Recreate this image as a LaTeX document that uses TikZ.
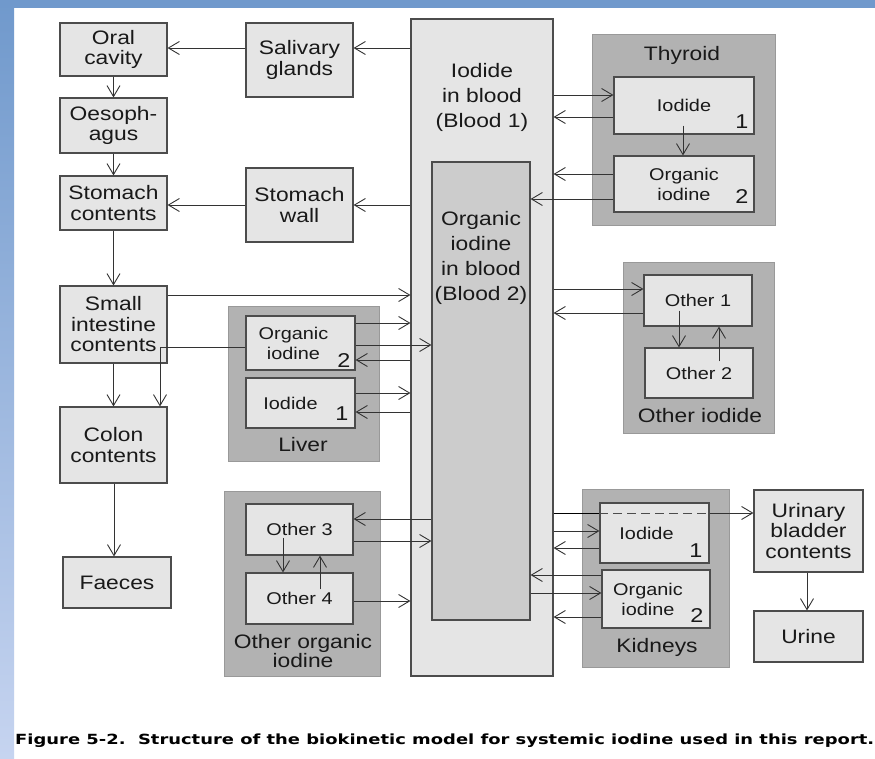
\documentclass[tikz,border=0pt]{standalone}
\usepackage{fontspec}
\setmainfont[FakeStretch=1.17]{Liberation Sans}
\newfontfamily\capfont[FakeStretch=1.28]{DejaVu Sans}
\usetikzlibrary{arrows.meta, calc}

\definecolor{bandtop}{HTML}{7099CC}
\definecolor{bandbot}{HTML}{C6D4F0}

\begin{document}
\begin{tikzpicture}[
    x=1pt, y=-1pt,
    box/.style = {rectangle, draw=black!70, fill=gray!20, line width=1.1pt,
                  inner sep=0pt, align=center, text=black!90,
                  font=\fontsize{19.5}{20.5}\selectfont},
    sub/.style = {box, font=\fontsize{17}{20}\selectfont},
    organ/.style = {rectangle, draw=black!40, fill=gray!60,
                    line width=0.8pt, inner sep=0pt},
    lbl/.style = {align=center, inner sep=0pt, text=black!90,
                  font=\fontsize{19.5}{18}\selectfont},
    btxt/.style = {lbl, font=\fontsize{19.5}{25}\selectfont},
    num/.style = {anchor=south east, inner xsep=6pt, inner ysep=6pt,
                  text=black!90, font=\fontsize{20}{20}\selectfont},
    arr/.style = {-{Straight Barb[length=11pt, width=13pt]},
                  line width=0.9pt, black!80},
  ]
  % page and blue frame
  \useasboundingbox (0,0) rectangle (875,758);
  \fill[white] (0,0) rectangle (875,758);
  \shade[top color=bandtop, bottom color=bandbot] (0,0) rectangle (14,758);
  \fill[bandtop] (0,0) rectangle (875,8);

  % blood compartments
  \node[box, minimum width=142pt, minimum height=657pt] (blood1) at (482,347.5) {};
  \node[box, fill=gray!40, minimum width=98pt, minimum height=458pt] (blood2) at (481,391) {};
  \node[btxt] (b1text) at (482,97) {Iodide\\in blood\\(Blood 1)};
  \node[btxt] (b2text) at (481,258) {Organic\\iodine\\in blood\\(Blood 2)};

  % alimentary tract
  \node[box, minimum width=107pt, minimum height=53pt] (oral) at (113.5,49.5) {Oral\\cavity};
  \node[box, minimum width=107pt, minimum height=74pt] (saliv) at (299.5,60) {Salivary\\glands};
  \node[box, minimum width=107pt, minimum height=55pt] (oeso) at (113.5,125.5) {Oesoph-\\agus};
  \node[box, minimum width=107pt, minimum height=54pt] (stomc) at (113.5,203) {Stomach\\contents};
  \node[box, minimum width=107pt, minimum height=74pt] (stomw) at (299.5,205) {Stomach\\wall};
  \node[box, minimum width=107pt, minimum height=77pt] (smint) at (113.5,324.5) {Small\\intestine\\contents};
  \node[box, minimum width=107pt, minimum height=76pt] (colon) at (113.5,445) {Colon\\contents};
  \node[box, minimum width=108pt, minimum height=51pt] (faeces) at (117,582.5) {Faeces};

  % thyroid
  \node[organ, minimum width=183pt, minimum height=191pt] (thyroid) at (683.5,129.5) {};
  \node[lbl] (thyroid-l) at (682,55) {Thyroid};
  \node[sub, minimum width=140pt, minimum height=57pt] (thyI) at (684,105.5) {Iodide};
  \node[sub, minimum width=140pt, minimum height=56pt] (thyO) at (684,184) {Organic\\iodine};
  \node[num] (thyI-n) at (thyI.south east) {1};
  \node[num, inner ysep=9pt] (thyO-n) at (thyO.south east) {2};

  % liver
  \node[organ, minimum width=151pt, minimum height=155pt] (liver) at (303.5,383.5) {};
  \node[lbl] (liver-l) at (303,445) {Liver};
  \node[sub, minimum width=109pt, minimum height=54pt] (livO) at (300.5,343) {Organic\kern14pt\\iodine\kern14pt};
  \node[sub, minimum width=109pt, minimum height=50pt] (livI) at (300.5,403) {Iodide\kern20pt};
  \node[num, inner ysep=3pt, inner xsep=5pt] (livO-n) at (livO.south east) {2};
  \node[num, inner ysep=8pt, inner xsep=7pt] (livI-n) at (livI.south east) {1};

  % other organic iodine
  \node[organ, minimum width=156pt, minimum height=185pt] (ooi) at (302,583.5) {};
  \node[lbl] (ooi-l) at (303,651) {Other organic\\iodine};
  \node[sub, minimum width=107pt, minimum height=51pt] (oth3) at (299.5,529.5) {Other 3};
  \node[sub, minimum width=107pt, minimum height=51pt] (oth4) at (299.5,598.5) {Other 4};

  % other iodide
  \node[organ, minimum width=151pt, minimum height=171pt] (oi) at (698.5,347.5) {};
  \node[lbl] (oi-l) at (700,416) {Other iodide};
  \node[sub, minimum width=108pt, minimum height=51pt] (oth1) at (698,300.5) {Other 1};
  \node[sub, minimum width=108pt, minimum height=50pt] (oth2) at (699,373) {Other 2};

  % kidneys and bladder
  \node[organ, minimum width=147pt, minimum height=178pt] (kidney) at (655.5,578) {};
  \node[lbl] (kidney-l) at (657,647) {Kidneys};
  \node[sub, minimum width=109pt, minimum height=60pt] (kidI) at (654.5,533) {Iodide\kern16pt};
  \node[sub, minimum width=108pt, minimum height=58pt] (kidO) at (656,599) {Organic\kern16pt\\iodine\kern16pt};
  \node[num, inner xsep=7pt] (kidI-n) at (kidI.south east) {1};
  \node[num, inner xsep=7pt] (kidO-n) at (kidO.south east) {2};
  \node[box, minimum width=109pt, minimum height=82pt] (bladder) at (808.5,531) {Urinary\\bladder\\contents};
  \node[box, minimum width=109pt, minimum height=51pt] (urine) at (808.5,636.5) {Urine};

  % alimentary flows
  \draw[arr] (blood1.west |- 0,48) -- (saliv.east |- 0,48);
  \draw[arr] (saliv.west |- 0,48) -- (oral.east |- 0,48);
  \draw[arr] (oral) -- (oeso);
  \draw[arr] (oeso) -- (stomc);
  \draw[arr] (blood1.west |- 0,205) -- (stomw.east |- 0,205);
  \draw[arr] (stomw.west |- 0,205) -- (stomc.east |- 0,205);
  \draw[arr] (stomc) -- (smint);
  \draw[arr] (smint.east |- 0,295) -- (blood1.west |- 0,295);
  \draw[arr] (smint) -- (colon);
  \draw[arr] (colon.south -| 114,0) -- (faeces.north -| 114,0);
  \draw[arr] (livO.west |- 0,347) -| (colon.north -| 160,0);

  % liver flows
  \draw[arr] (livO.east |- 0,323) -- (blood1.west |- 0,323);
  \draw[arr] (livO.east |- 0,345) -- (blood2.west |- 0,345);
  \draw[arr] (blood1.west |- 0,360) -- (livO.east |- 0,360);
  \draw[arr] (livI.east |- 0,393) -- (blood1.west |- 0,393);
  \draw[arr] (blood1.west |- 0,412) -- (livI.east |- 0,412);

  % other organic iodine flows
  \draw[arr] (blood2.west |- 0,519) -- (oth3.east |- 0,519);
  \draw[arr] (oth3.east |- 0,541) -- (blood2.west |- 0,541);
  \draw[arr] (oth4.east |- 0,601) -- (blood1.west |- 0,601);
  \draw[arr] ($(oth3.south)+(-16.5,-18)$) -- (oth4.north -| 283,0);
  \draw[arr] ($(oth4.north)+(20.5,17)$) -- (oth3.south -| 320,0);

  % thyroid flows
  \draw[arr] (blood1.east |- 0,95) -- (thyI.west |- 0,95);
  \draw[arr] (thyI.west |- 0,117) -- (blood1.east |- 0,117);
  \draw[arr] ($(thyI.south)+(-1,-9)$) -- (thyO.north -| 683,0);
  \draw[arr] (thyO.west |- 0,174) -- (blood1.east |- 0,174);
  \draw[arr] (thyO.west |- 0,199) -- (blood2.east |- 0,199);

  % other iodide flows
  \draw[arr] (blood1.east |- 0,289) -- (oth1.west |- 0,289);
  \draw[arr] (oth1.west |- 0,313) -- (blood1.east |- 0,313);
  \draw[arr] ($(oth1.south)+(-19,-16)$) -- (oth2.north -| 679,0);
  \draw[arr] ($(oth2.north)+(20,14)$) -- (oth1.south -| 719,0);

  % kidney flows
  \draw (blood1.east |- 0,513) -- (kidI.west |- 0,513);
  \draw[dash pattern=on 9pt off 5pt, line width=0.9pt, black!70] (kidI.west |- 0,513) -- (kidI.east |- 0,513);
  \draw[arr] (kidI.east |- 0,513) -- (bladder.west |- 0,513);
  \draw[arr] (blood1.east |- 0,531) -- (kidI.west |- 0,531);
  \draw[arr] (kidI.west |- 0,548) -- (blood1.east |- 0,548);
  \draw[arr] (kidO.west |- 0,575) -- (blood2.east |- 0,575);
  \draw[arr] (blood2.east |- 0,593) -- (kidO.west |- 0,593);
  \draw[arr] (kidO.west |- 0,617) -- (blood1.east |- 0,617);
  \draw[arr] (bladder.south -| 807,0) -- (urine.north -| 807,0);

  % caption
  \node[anchor=west, inner sep=0pt, font=\capfont\bfseries\fontsize{14}{16}\selectfont] (caption) at (15,741)
    {Figure 5-2.\ \ Structure of the biokinetic model for systemic iodine used in this report.};
\end{tikzpicture}
\end{document}
